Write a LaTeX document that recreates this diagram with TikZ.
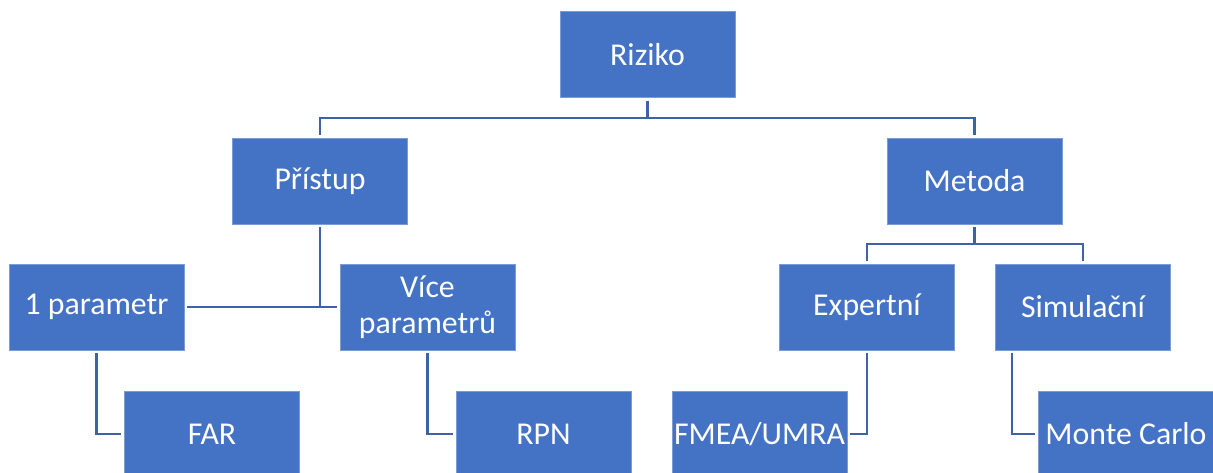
\documentclass[tikz,border=0pt]{standalone}
\usepackage{fontspec}
\setmainfont{Carlito}
\definecolor{boxblue}{RGB}{68,114,196}
\definecolor{lineblue}{RGB}{61,98,168}
\begin{document}
\begin{tikzpicture}[x=1pt,y=-1pt,
  box/.style={rectangle,fill=boxblue,draw=boxblue!70!white,line width=0.6pt,minimum width=175pt,minimum height=86pt,inner sep=0pt,text=white,align=center,font=\fontsize{31.8}{35.5}\selectfont},
  conn/.style={draw=lineblue,line width=2.4pt,shorten <=3pt,shorten >=3pt}]
\useasboundingbox (0,0) rectangle (1213,473);
\node[box] (riziko) at (647.5,54.5) {Riziko};
\node[box] (pristup) at (320,181) {Přístup};
\node[box] (metoda) at (974.5,181) {Metoda};
\node[box] (jeden) at (96.5,307) {1 parametr};
\node[box] (vice) at (427.5,307) {Více\\parametrů};
\node[box] (expert) at (867,307) {Expertní};
\node[box] (simul) at (1083,307) {Simulační};
\node[box] (far) at (212,434) {FAR};
\node[box] (rpn) at (543.5,434) {RPN};
\node[box] (fmea) at (759.5,434) {FMEA/UMRA};
\node[box] (monte) at (1126,434) {Monte Carlo};
\draw[conn] (riziko.south) -- ++(0,20) -| (pristup.north);
\draw[conn] (riziko.south) -- ++(0,20) -| (metoda.north);
\draw[conn] (pristup.south) |- (jeden.east);
\draw[conn] (pristup.south) |- (vice.west);
\draw[conn] (metoda.south) -- ++(0,20) -| (expert.north);
\draw[conn] (metoda.south) -- ++(0,20) -| (simul.north);
\draw[conn] (jeden.south) |- (far.west);
\draw[conn] (vice.south) |- (rpn.west);
\draw[conn] (expert.south) |- (fmea.east);
\draw[conn] ([xshift=16.5pt]simul.south west) |- (monte.west);
\end{tikzpicture}
\end{document}
